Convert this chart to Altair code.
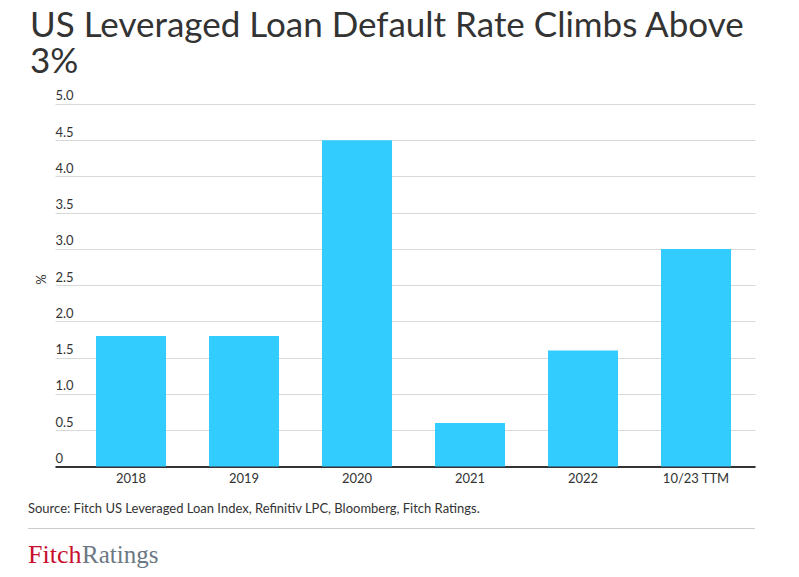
import altair as alt
import pandas as pd

# ---- data ----
categories = ["2018", "2019", "2020", "2021", "2022", "10/23 TTM"]
default_rate = [1.8, 1.8, 4.5, 0.6, 1.6, 3.0]
y_ticks = [0, 0.5, 1.0, 1.5, 2.0, 2.5, 3.0, 3.5, 4.0, 4.5, 5.0]

title_lines = ["US Leveraged Loan Default Rate Climbs Above", "3%"]
y_title = "%"
source_text = ["Source: Fitch US Leveraged Loan Index, Refinitiv LPC, Bloomberg, Fitch Ratings."]
logo_red = ["Fitch"]
logo_gray = ["Ratings"]

FONT = "Lato"
DARK = "#333333"
BAR = "#33ccff"

df = pd.DataFrame({"cat": categories, "val": default_rate})

bars = alt.Chart(df).mark_bar(color=BAR).encode(
    x=alt.X(
        "cat:N",
        sort=categories,
        title=None,
        scale=alt.Scale(paddingInner=0.3805, paddingOuter=0.2876, align=0.631),
        axis=alt.Axis(
            labelAngle=0,
            domain=True,
            domainColor=DARK,
            domainWidth=2,
            ticks=False,
            grid=False,
            labelPadding=6,
            labelFont=FONT,
            labelFontSize=13,
            labelColor=DARK,
        ),
    ),
    y=alt.Y(
        "val:Q",
        title=y_title,
        scale=alt.Scale(domain=[0, 5], nice=False, zero=True),
        axis=alt.Axis(
            values=y_ticks,
            domain=False,
            ticks=False,
            tickSize=0,
            grid=True,
            gridColor="#d9d9d9",
            gridWidth=1,
            labelAlign="left",
            labelBaseline="alphabetic",
            labelPadding=0,
            labelOffset=-4,
            labelFont=FONT,
            labelFontSize=13,
            labelColor=DARK,
            labelBound=False,
            labelOverlap=False,
            labelExpr="datum.value == 0 ? '0' : format(datum.value, '.1f')",
            titleFont=FONT,
            titleFontSize=13,
            titleFontWeight="normal",
            titleColor=DARK,
            titleAngle=270,
            titleBaseline="alphabetic",
            titleAlign="center",
            titleX=-10,
            titleY=175,
        ),
    ),
)

src = alt.Chart(pd.DataFrame({"t": source_text})).mark_text(
    align="left", baseline="alphabetic", font=FONT, fontSize=13, color=DARK
).encode(x=alt.value(-27), y=alt.value(409), text="t:N")

sep = alt.Chart(pd.DataFrame({"t": source_text})).mark_rule(
    color="#cccccc", strokeWidth=1
).encode(x=alt.value(-27), x2=alt.value(700), y=alt.value(424.5))

logo1 = alt.Chart(pd.DataFrame({"t": logo_red})).mark_text(
    align="left", baseline="alphabetic", font="Liberation Serif", fontSize=26, color="#c8102e"
).encode(x=alt.value(-27), y=alt.value(458.7), text="t:N")

logo2 = alt.Chart(pd.DataFrame({"t": logo_gray})).mark_text(
    align="left", baseline="alphabetic", font="Liberation Serif", fontSize=25, color="#6b7884"
).encode(x=alt.value(27), y=alt.value(458.7), text="t:N")

chart = alt.layer(bars, src, sep, logo1, logo2).properties(
    width=700,
    height=362.4,
    autosize=alt.AutoSizeParams(type="none"),
    padding={"left": 47, "top": 96, "right": 36, "bottom": 103},
    title=alt.TitleParams(
        text=title_lines,
        anchor="start",
        frame="group",
        font=FONT,
        fontSize=35,
        fontWeight="normal",
        color=DARK,
        lineHeight=36,
        dx=-25,
        offset=10,
    ),
).configure_view(stroke=None)

chart.save("out.html", embed_options={"renderer": "svg", "actions": False})
